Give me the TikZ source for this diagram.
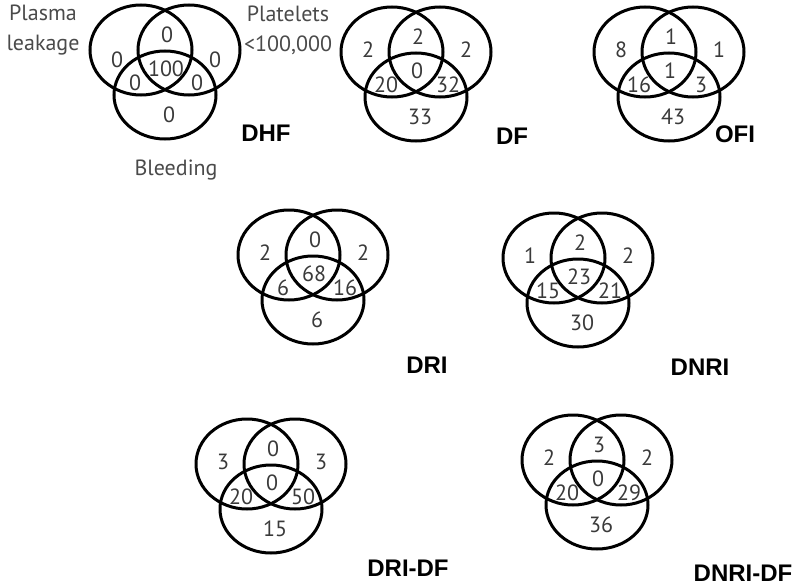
\documentclass[tikz,border=0pt]{standalone}
\usepackage{fontspec}
\newfontfamily\numfont{PT Sans}
\newfontfamily\titlefont{Liberation Sans}
\definecolor{numgray}{HTML}{3A3A3A}
\definecolor{labelgray}{HTML}{4A4A4A}

% y offset of the two side counts
\def\sidey{-2}
% name, position of the centre, then the counts:
% left, top, right, left-bottom, centre, right-bottom, bottom
\newcommand{\venn}[9]{%
  \begin{scope}[shift={#2}]
    \draw[ring] (-24,0) ellipse [x radius=51, y radius=45];
    \draw[ring] (24,0) ellipse [x radius=51, y radius=45];
    \draw[ring] (0,45) ellipse [x radius=51, y radius=44];
    \node[num] (#1-l) at (-48,\sidey) {#3};
    \node[num] (#1-t) at (2,-15) {#4};
    \node[num] (#1-r) at (50,\sidey) {#5};
    \node[num] (#1-lb) at (-30,33) {#6};
    \node[num] (#1-c) at (1,19) {#7};
    \node[num] (#1-rb) at (32,33) {#8};
    \node[num] (#1-b) at (4,65) {#9};
  \end{scope}}

\begin{document}
\begin{tikzpicture}[x=1pt, y=-1pt,
    ring/.style={line width=3pt, black},
    num/.style={inner sep=0pt, text=numgray, font=\numfont\fontsize{22}{26}\selectfont},
    setlabel/.style={inner sep=0pt, align=center, text=labelgray, font=\numfont\fontsize{22}{30}\selectfont},
    title/.style={inner sep=0pt, font=\titlefont\bfseries\fontsize{24}{28}\selectfont}]
  \useasboundingbox (0,0) rectangle (800,586);

  % Set names around the first diagram
  \node[setlabel] (plasma) at (43,30) {Plasma\\leakage};
  \node[setlabel] (platelets) at (288,30) {Platelets\\<100,000};
  \node[setlabel] (bleeding) at (176,170) {Bleeding};

  % Top row
  {\def\sidey{10}
   \venn{dhf}{(165,50)}{0}{0}{0}{0}{100}{0}{0}}
  \venn{df}{(416,52)}{2}{2}{2}{20}{0}{32}{33}
  \venn{ofi}{(669,52)}{8}{1}{1}{16}{1}{3}{43}

  % Middle row
  \venn{dri}{(313,255)}{2}{0}{2}{6}{68}{16}{6}
  \venn{dnri}{(578,258)}{1}{2}{2}{15}{23}{21}{30}

  % Bottom row
  \venn{dridf}{(271,464)}{3}{0}{3}{20}{0}{50}{15}
  \venn{dnridf}{(597,460)}{2}{3}{2}{20}{0}{29}{36}

  % Group names
  \node[title] (dhf-name) at (266,133) {DHF};
  \node[title] (df-name) at (512,136) {DF};
  \node[title] (ofi-name) at (735,134) {OFI};
  \node[title] (dri-name) at (427,365) {DRI};
  \node[title] (dnri-name) at (700,367) {DNRI};
  \node[title] (dridf-name) at (408,568) {DRI-DF};
  \node[title] (dnridf-name) at (743,573) {DNRI-DF};
\end{tikzpicture}
\end{document}
